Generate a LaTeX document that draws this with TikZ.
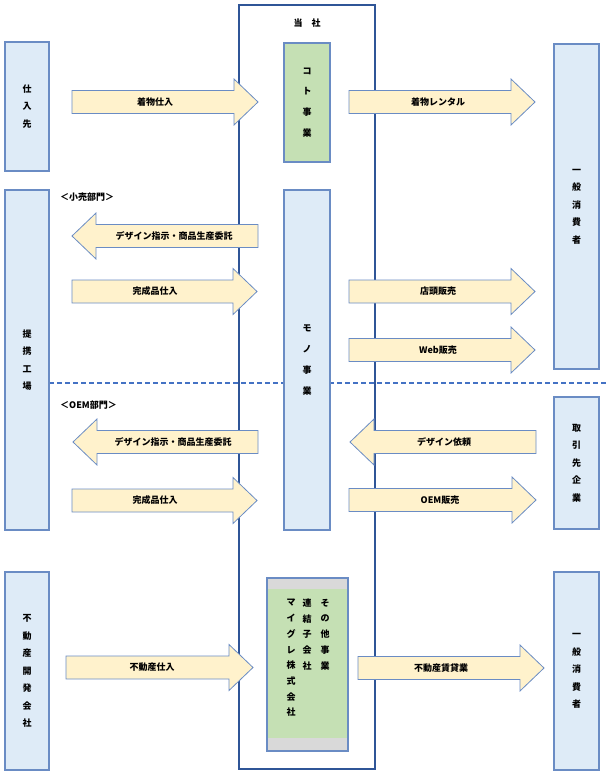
\documentclass[tikz,border=0pt]{standalone}
\usepackage{fontspec}
\setmainfont{Noto Sans CJK JP}
\definecolor{frameblue}{HTML}{2F5597}
\definecolor{edgeblue}{HTML}{6A8CC4}
\definecolor{boxblue}{HTML}{DEEBF7}
\definecolor{arrfill}{HTML}{FFF2CC}
\definecolor{bizgreen}{HTML}{C5E0B4}
\definecolor{bandgray}{HTML}{D9D9D9}
\definecolor{dashblue}{HTML}{4472C4}

% block arrow: tail x, tip x, y, label name, label x, text
\newcommand{\blockarr}[6]{%
  \pgfmathsetmacro{\hbase}{#2+24*sign(#1-#2)}
  \draw[arrbody](#1,#3-11.5)--(\hbase,#3-11.5)--(\hbase,#3-23)--(#2,#3)
    --(\hbase,#3+23)--(\hbase,#3+11.5)--(#1,#3+11.5)--cycle;
  \node[arrlabel](#4) at (#5,#3){#6};}

\begin{document}
\begin{tikzpicture}[x=1pt, y=-1pt,
  partybox/.style={draw=edgeblue, fill=boxblue, line width=1.2pt, inner sep=0pt,
    align=center, font=\bfseries\fontsize{9}{17.5}\selectfont},
  bizbox/.style={partybox, font=\bfseries\fontsize{9}{20.8}\selectfont},
  arrbody/.style={draw=edgeblue, fill=arrfill, line width=0.8pt},
  arrlabel/.style={inner sep=0pt, font=\bfseries\fontsize{9}{11}\selectfont},
  tag/.style={anchor=west, inner sep=0pt, font=\bfseries\fontsize{9}{11}\selectfont}]
\useasboundingbox (0,0) rectangle (609,774);

% own company frame
\draw[frameblue, line width=2.4pt](239,5) rectangle (375,769);
\node[arrlabel](own) at (307,23){当\quad 社};

% boundary between retail and OEM
\draw[draw=dashblue, line width=1.3pt, dash pattern=on 5pt off 3pt](49,383)--(607,383);

% outside parties
\node[partybox, minimum width=44pt, minimum height=129pt](supplier) at (27,106.5){仕\\入\\先};
\node[partybox, minimum width=44pt, minimum height=340pt](factory) at (27,360){提\\携\\工\\場};
\node[partybox, minimum width=44pt, minimum height=198pt](developer) at (27,671){不\\動\\産\\開\\発\\会\\社};
\node[partybox, minimum width=45pt, minimum height=325pt](consumer) at (576.5,206.5){一\\般\\消\\費\\者};
\node[partybox, minimum width=45pt, minimum height=132pt](client) at (576.5,463){取\\引\\先\\企\\業};
\node[partybox, minimum width=45pt, minimum height=198pt](tenant) at (576.5,671){一\\般\\消\\費\\者};

% businesses
\node[bizbox, fill=bizgreen, minimum width=46pt, minimum height=119pt](koto) at (307,102.5){コ\\ト\\事\\業};
\node[bizbox, minimum width=46pt, minimum height=340pt](mono) at (307,360){モ\\ノ\\事\\業};
\node[partybox, fill=bandgray, minimum width=81pt, minimum height=173pt](other) at (307.5,664.5){};
\fill[bizgreen](268,589) rectangle (347,738);
\begin{scope}[every node/.style={inner sep=0pt, align=center, font=\bfseries\fontsize{9}{15.7}\selectfont}]
\node(othername) at (325,634.5){そ\\の\\他\\事\\業};
\node(subsid) at (307,634.5){連\\結\\子\\会\\社};
\node(migre) at (291,658){マ\\イ\\グ\\レ\\株\\式\\会\\社};
\end{scope}

% section tags
\node[tag](retail) at (60,197){＜小売部門＞};
\node[tag](oem) at (60,405){＜OEM部門＞};

% flows
\blockarr{72}{258}{102}{kimonobuy}{155}{着物仕入}
\blockarr{349}{535}{102}{rental}{438}{着物レンタル}
\blockarr{258}{72}{236}{orderretail}{174}{デザイン指示・商品生産委託}
\blockarr{72}{257}{291.5}{buyretail}{155}{完成品仕入}
\blockarr{349}{535}{291.5}{store}{438}{店頭販売}
\blockarr{349}{535}{350}{web}{438}{Web販売}
\blockarr{258}{73}{442}{orderoem}{173}{デザイン指示・商品生産委託}
\blockarr{72}{257}{500.5}{buyoem}{155}{完成品仕入}
\blockarr{536}{350}{442}{design}{444}{デザイン依頼}
\blockarr{349}{536}{500}{oemsale}{440}{OEM販売}
\blockarr{66}{253}{667.5}{estatebuy}{152}{不動産仕入}
\blockarr{358}{544}{668}{lease}{441}{不動産賃貸業}
\end{tikzpicture}
\end{document}
